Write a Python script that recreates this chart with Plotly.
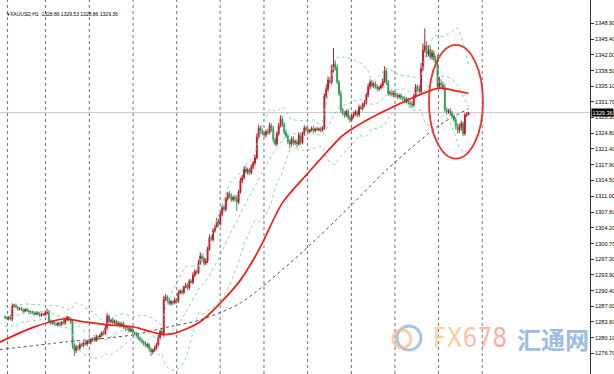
import plotly.graph_objects as go
import pandas as pd

# ---------------- DATA ----------------
# hourly closes (XAUUSD H1)
close = [
    1284.5,1284.3,1284.6,1284.2,1287.0,1287.2,1286.8,1286.4,1286.5,1286.2,1285.9,1286.3,1286.0,1285.6,1285.8,
    1285.5,1285.3,1285.6,1285.2,1285.0,1285.3,1285.1,1285.5,1285.9,1283.8,1283.3,1283.6,1283.1,1282.9,1283.2,
    1283.0,1283.5,1283.3,1284.0,1284.6,1284.2,1283.5,1278.5,1277.3,1278.2,1277.8,1278.6,1278.4,1279.0,1278.7,
    1279.4,1279.1,1279.6,1279.9,1279.5,1280.3,1280.0,1280.6,1281.2,1281.0,1282.3,1284.8,1283.6,1284.0,1283.4,
    1283.7,1283.0,1283.3,1282.8,1283.1,1282.4,1282.0,1282.3,1281.6,1281.9,1281.3,1281.0,1280.6,1280.0,1279.6,
    1279.2,1278.8,1278.3,1278.6,1277.6,1277.0,1277.4,1277.8,1278.6,1280.2,1281.5,1281.0,1288.5,1289.0,1288.2,
    1287.6,1288.0,1287.7,1288.4,1288.1,1289.9,1290.3,1290.0,1291.2,1291.6,1291.0,1292.5,1292.2,1293.8,1294.6,
    1294.3,1296.5,1298.0,1297.5,1296.4,1296.9,1299.5,1302.0,1301.6,1303.5,1304.4,1305.6,1305.0,1307.2,1308.6,
    1308.2,1310.4,1311.6,1311.2,1310.3,1310.8,1310.5,1309.8,1312.0,1314.5,1315.2,1317.0,1316.4,1316.8,1316.2,
    1317.5,1318.4,1319.5,1324.0,1326.0,1325.3,1324.8,1324.5,1325.2,1325.0,1326.5,1325.8,1323.5,1322.5,1324.8,
    1326.5,1328.0,1326.8,1325.0,1324.2,1323.0,1322.5,1323.6,1322.8,1323.0,1322.5,1324.5,1322.8,1324.8,1326.0,
    1325.6,1325.2,1325.5,1325.9,1325.4,1325.8,1325.6,1325.8,1325.5,1326.0,1333.0,1334.5,1336.5,1336.0,1338.6,
    1340.0,1339.2,1336.0,1333.5,1330.0,1329.2,1328.8,1329.6,1328.3,1327.8,1328.6,1329.0,1329.5,1328.9,1330.5,
    1330.3,1331.2,1331.5,1333.2,1335.0,1336.0,1335.2,1335.6,1335.0,1334.6,1334.8,1335.3,1336.2,1338.5,1336.0,
    1333.5,1333.8,1333.3,1333.6,1333.2,1332.8,1333.1,1332.6,1332.5,1331.9,1332.2,1331.5,1331.3,1331.0,1333.0,
    1335.0,1334.6,1334.0,1339.0,1343.0,1344.0,1342.2,1343.2,1341.5,1342.4,1341.0,1340.0,1335.0,1335.8,1335.5,
    1334.8,1330.0,1329.6,1329.8,1329.2,1328.6,1327.8,1326.5,1325.5,1326.2,1327.0,1324.8,1328.8,1328.86,1329.36,
]
first_open = 1284.7

wick_up = [
    .3,.4,.2,.5,.6,.3,.4,.3,.2,.4,.3,.2,.4,.3,.2,
    .3,.4,.2,.3,.5,.3,.2,.4,.6,.3,.4,.3,.2,.4,.3,
    .4,.3,.5,.4,.3,.2,.4,.6,.5,.4,.3,.5,.4,.3,.4,
    .3,.5,.4,.3,.4,.5,.3,.4,.3,.5,.6,.7,.4,.3,.5,
    .4,.3,.5,.3,.4,.6,.3,.4,.3,.5,.4,.3,.4,.5,.3,
    .4,.3,.5,.4,.3,.4,.3,.5,.4,.6,.3,.5,.8,.6,.4,
    .5,.4,.3,.5,.4,.6,.4,.5,.3,.6,.4,.5,.4,.6,.5,
    .4,.6,.8,.5,.4,.6,.5,.7,.5,.6,.4,.7,.5,.6,.5,
    .6,.5,.4,.6,.5,.4,.6,.8,.5,.6,.5,.7,.6,.5,.4,
    .5,.4,.6,.8,.7,.5,.6,.4,.5,.6,.7,.5,.6,.4,.5,
    .6,.8,.5,.4,.6,.5,.4,.5,.6,.4,.5,.6,.5,.4,.6,
    .4,.5,.3,.4,.5,.3,.4,.3,.5,.4,.6,1.0,.8,.6,1.2,
    3.5,.8,.6,.5,.7,.4,.5,.4,.6,.5,.4,.6,.5,.4,.6,
    .5,.4,.6,.5,.7,.6,.5,.4,.6,.5,.4,.5,.7,1.0,.6,
    .5,.4,.6,.5,.4,.5,.4,.5,.4,.6,.5,.4,.5,.6,.5,
    .6,.5,.8,1.2,1.5,3.8,1.0,.9,.8,.7,.6,.8,2.0,1.4,.9,
    .6,.8,.5,.4,.6,.5,.4,.6,.5,.7,.6,.4,.5,.6,.17,
]
wick_dn = [
    .3,.2,.4,.3,.5,.3,.2,.4,.3,.2,.4,.3,.2,.4,.3,
    .2,.4,.3,.2,.4,.3,.2,.3,.4,.5,.4,.3,.4,.2,.3,
    .4,.3,.2,.4,.3,.5,.4,.8,1.2,.6,.5,.4,.3,.4,.3,
    .4,.3,.5,.3,.4,.3,.5,.4,.3,.4,.3,.5,.4,.3,.4,
    .3,.4,.3,.5,.3,.4,.5,.3,.4,.3,.5,.4,.3,.4,.5,
    .4,.5,.3,.4,.6,.9,.5,.4,.3,.4,.5,.4,.6,.4,.5,
    .4,.5,.4,.3,.5,.4,.3,.5,.4,.3,.5,.4,.3,.4,.5,
    .4,.3,.5,.8,.6,.4,.5,.4,.3,.5,.4,.3,.6,.4,.5,
    .4,.5,.3,.6,.5,.4,.6,2.0,.5,.4,.6,.5,.4,.6,.5,
    .4,.5,.6,.4,.5,.6,.4,.5,.6,.5,.4,.6,.7,.5,.4,
    .5,.4,.6,.5,.4,.6,1.0,.4,.6,.5,.8,.4,.5,.4,.5,
    .4,.5,.4,.3,.5,.4,.3,.4,.5,.3,.4,.5,.6,.4,.5,
    .5,.6,.4,.6,.7,.5,.6,.4,.5,.6,.4,.5,.4,.6,.5,
    .4,.5,.6,.4,.5,.6,.4,.5,.4,.6,.5,.4,.5,.4,.6,
    .5,.4,.5,.6,.4,.5,.4,.5,.6,.4,.5,.4,.8,.6,.4,
    .5,.6,.4,.5,.6,.5,.7,.6,.5,.6,.5,.6,.5,.4,.6,
    .5,.6,.7,.5,.6,.5,.6,.8,.7,.6,.8,.6,.5,.4,0,
]
# closes before the visible window (feed the Bollinger bands only)
prior_close = [1286.5,1287.2,1286.0,1285.1,1284.0,1283.2,1282.5,1283.0,1284.2,1285.0,
               1284.6,1285.3,1286.0,1285.4,1284.8,1285.5,1284.9,1284.3,1284.7]

# red moving average, read at bar indices
red_ma_idx = [-3, 15, 32, 43, 57, 70, 80, 87, 94, 107, 118, 129, 136, 141, 152, 166, 184, 189, 211, 238, 247, 254]
red_ma_val = [1279.1, 1282.3, 1284.2, 1283.6, 1282.9, 1282.5, 1281.4, 1280.8, 1281.2, 1283.6, 1287.7,
              1292.7, 1297.1, 1300.8, 1309.6, 1316.1, 1324.0, 1325.5, 1330.3, 1334.7, 1334.1, 1333.6]
# dark dotted moving average
slow_ma_idx = [-3, 34, 70, 90, 107, 129, 160, 189, 209, 238, 254]
slow_ma_val = [1277.5, 1279.2, 1280.7, 1282.5, 1284.0, 1287.7, 1297.8, 1308.8, 1316.8, 1326.6, 1330.2]

price_ticks = [1348.90, 1345.40, 1342.00, 1338.50, 1335.10, 1331.70, 1328.30, 1324.80, 1321.40, 1317.90, 1314.50,
               1311.00, 1307.60, 1304.20, 1300.70, 1297.30, 1293.90, 1290.40, 1287.00, 1283.60, 1280.10, 1276.70]
last_price = 1329.36
header = "XAUUSD,H1  1328.86 1329.53 1328.86 1329.36"
day_sep = [1.4, 22.2, 46.2, 70.2, 94.1, 117.9, 141.9, 165.8, 189.8, 213.7, 237.5, 261.5]

# ---------------- DERIVED ----------------
n = len(close)
idx = list(range(n))
opn = [first_open] + close[:-1]
high = [max(o, c) + w for o, c, w in zip(opn, close, wick_up)]
low = [min(o, c) - w for o, c, w in zip(opn, close, wick_dn)]

s = pd.Series(prior_close + close)
mid = s.rolling(20).mean()
sd = s.rolling(20).std(ddof=0)
upper = (mid + 2 * sd).tolist()[-n:]
lower = (mid - 2 * sd).tolist()[-n:]
mid = mid.tolist()[-n:]

# ---------------- FIGURE ----------------
fig = go.Figure()
bb_col = "#86d6aa"
for band in (upper, mid, lower):
    fig.add_trace(go.Scatter(x=idx, y=band, mode="lines",
                             line=dict(color=bb_col, width=1, dash="dot"),
                             hoverinfo="skip", showlegend=False))
fig.add_trace(go.Scatter(x=slow_ma_idx, y=slow_ma_val, mode="lines",
                         line=dict(color="#505050", width=1, dash="dot", shape="spline", smoothing=0.8),
                         hoverinfo="skip", showlegend=False))
fig.add_trace(go.Scatter(x=red_ma_idx, y=red_ma_val, mode="lines",
                         line=dict(color="#f01c1c", width=1.7, shape="spline", smoothing=0.8),
                         hoverinfo="skip", showlegend=False))
fig.add_trace(go.Candlestick(
    x=idx, open=opn, high=high, low=low, close=close,
    increasing=dict(line=dict(color="#c8142c", width=1), fillcolor="#c8142c"),
    decreasing=dict(line=dict(color="#2f9c5c", width=1), fillcolor="#2f9c5c"),
    whiskerwidth=0, showlegend=False, hoverinfo="skip"))

shapes = []
for d in day_sep:
    shapes.append(dict(type="line", xref="x", yref="paper", x0=d, x1=d, y0=0, y1=1,
                       line=dict(color="#707070", width=1, dash="dot"), layer="below"))
shapes.append(dict(type="line", xref="paper", yref="y", x0=0, x1=1, y0=last_price, y1=last_price,
                   line=dict(color="#c8c8c8", width=1), layer="below"))
# highlighted area (red ellipse)
shapes.append(dict(type="circle", xref="x", yref="y", x0=232.3, x1=261.9, y0=1319.3, y1=1344.2,
                   line=dict(color="#f03030", width=1.8)))
# watermark icon
shapes.append(dict(type="circle", xref="paper", yref="paper", x0=397/590, x1=421/590,
                   y0=1 - 350/374, y1=1 - 326/374, line=dict(color="rgba(140,175,220,0.75)", width=3)))
shapes.append(dict(type="circle", xref="paper", yref="paper", x0=393/590, x1=411/590,
                   y0=1 - 348/374, y1=1 - 330/374, line=dict(color="rgba(248,190,140,0.75)", width=3)))

annotations = [
    dict(xref="paper", yref="paper", x=5 / 590, y=1 - 14 / 374, xanchor="left", yanchor="middle",
         text="▾" + header, showarrow=False,
         font=dict(family="Liberation Sans", size=5, color="#000000")),
    dict(xref="paper", yref="y", x=1.0, y=last_price, xanchor="left", yanchor="middle",
         text="1329.36", showarrow=False, bgcolor="#000000", borderpad=0.5, xshift=1,
         font=dict(family="Liberation Sans", size=5.6, color="#ffffff")),
    dict(xref="paper", yref="paper", x=431 / 590, y=1 - 338 / 374, xanchor="left", yanchor="middle",
         text=("<span style='color:rgba(250,200,140,0.8)'>F</span>"
               "<span style='color:rgba(250,190,135,0.8)'>X</span>"
               "<span style='color:rgba(248,178,140,0.8)'>6</span>"
               "<span style='color:rgba(246,165,145,0.8)'>7</span>"
               "<span style='color:rgba(243,152,150,0.8)'>8</span>"),
         showarrow=False, font=dict(family="DejaVu Sans Condensed", size=26)),
    dict(xref="paper", yref="paper", x=515 / 590, y=1 - 338 / 374, xanchor="left", yanchor="middle",
         text="<b>汇通网</b>", showarrow=False,
         font=dict(family="Noto Sans CJK SC", size=24, color="rgba(130,170,220,0.8)")),
]

fig.update_layout(
    width=614, height=374,
    margin=dict(l=0, r=24, t=0, b=0),
    paper_bgcolor="#ffffff", plot_bgcolor="#ffffff",
    shapes=shapes, annotations=annotations,
    showlegend=False,
    xaxis=dict(range=[-2.74, 320.55], visible=False, rangeslider=dict(visible=False), fixedrange=True),
    yaxis=dict(range=[1272.16, 1354.0], side="right", tickmode="array", tickvals=price_ticks,
               ticktext=[f"{v:.2f}" for v in price_ticks], showgrid=False, zeroline=False,
               showline=True, linecolor="#333333", linewidth=1, ticks="outside", ticklen=3,
               tickcolor="#333333", tickfont=dict(family="Liberation Sans", size=5.6, color="#000000"),
               automargin=False, fixedrange=True),
)

fig.write_html("out.html")
